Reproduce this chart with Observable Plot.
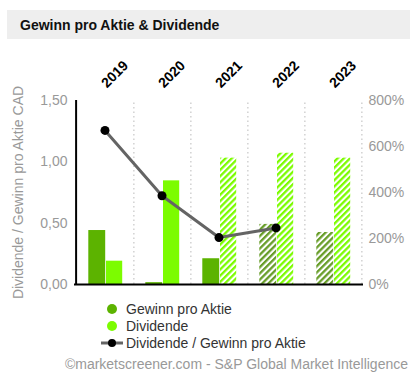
<!DOCTYPE html>
<html><head><meta charset="utf-8">
<script src="https://cdn.jsdelivr.net/npm/d3@7"></script>
<script src="https://cdn.jsdelivr.net/npm/@observablehq/plot@0.6"></script>
<style>
body{margin:0;width:419px;height:382px;position:relative;font-family:"Liberation Sans",Arial,sans-serif;background:#fff;overflow:hidden}
#title{position:absolute;left:7px;top:10px;width:403px;height:29px;background:#eee;font-weight:bold;font-size:14px;line-height:30px;padding-left:13px;box-sizing:border-box;color:#111}
#chart{position:absolute;left:0;top:40px}
#legend{position:absolute;left:100px;top:301px;font-size:14px;color:#333}
.item{height:16.7px;display:flex;align-items:center}
.item svg{width:24px;height:14px;margin-right:2px}
#footer{position:absolute;right:11px;top:356px;font-size:14px;color:#999;white-space:nowrap}
</style></head>
<body>
<div id="title">Gewinn pro Aktie &amp; Dividende</div>
<div id="chart"></div>
<div id="legend"></div>
<div id="footer">©marketscreener.com - S&amp;P Global Market Intelligence</div>
<script>
const years = ["2019","2020","2021","2022","2023"];
const eps = [0.44, 0.015, 0.21, 0.49, 0.424];
const dividend = [0.19, 0.845, 1.03, 1.07, 1.03];
const payoutRatio = [670, 386, 204, 246, null];
const epsEstimateFrom = 3;      // index of first estimated EPS
const divEstimateFrom = 2;      // index of first estimated dividend
const leftTicks = [0, 0.5, 1, 1.5];
const rightTicks = [0, 200, 400, 600, 800];
const yMax = 1.5, pctMax = 800;
const axisTitle = "Dividende / Gewinn pro Aktie CAD";
const legendLabels = ["Gewinn pro Aktie", "Dividende", "Dividende / Gewinn pro Aktie"];

const cEps = "#5cb300", cDiv = "#7cfc00", cEpsHatch = "#679d28", cLine = "#646464";

const epsData = years.map((y,i)=>({year:y, value:eps[i], est:i>=epsEstimateFrom}));
const divData = years.map((y,i)=>({year:y, value:dividend[i], est:i>=divEstimateFrom}));
const ratioData = years.map((y,i)=>({year:y, pct:payoutRatio[i]})).filter(d=>d.pct!=null);

const W = 419, H = 260, mL = 74, mR = 56, mT = 60, mB = 16;
const bw = (W - mL - mR) / years.length;
const toLeft = p => p / pctMax * yMax;

const svg = Plot.plot({
  width: W, height: H,
  marginLeft: mL, marginRight: mR, marginTop: mT, marginBottom: mB,
  style: {fontFamily: "Liberation Sans, Arial, sans-serif", fontSize: "14px", overflow: "visible"},
  x: {type: "band", domain: years, padding: 0, axis: null},
  y: {domain: [0, yMax], axis: null},
  marks: [
    Plot.ruleX(years, {dx: bw/2, y1: 0, y2: yMax, stroke: "#bbb", strokeDasharray: "1.5,3", strokeWidth: 1}),
    Plot.barY(epsData.filter(d=>!d.est), {x:"year", y:"value", fill:cEps, insetLeft:12.3, insetRight:27.8}),
    Plot.barY(epsData.filter(d=>d.est), {x:"year", y:"value", fill:"url(#hatchEps)", insetLeft:12.3, insetRight:27.8}),
    Plot.barY(divData.filter(d=>!d.est), {x:"year", y:"value", fill:cDiv, insetLeft:30, insetRight:10.8}),
    Plot.barY(divData.filter(d=>d.est), {x:"year", y:"value", fill:"url(#hatchDiv)", insetLeft:30, insetRight:10.8}),
    Plot.ruleY([0], {stroke:"#000", strokeWidth:2}),
    Plot.ruleX([years[0]], {dx: -bw/2, y1: 0, y2: yMax, stroke:"#000", strokeWidth:2}),
    Plot.line(ratioData, {x:"year", y:d=>toLeft(d.pct), stroke:cLine, strokeWidth:3}),
    Plot.dot(ratioData, {x:"year", y:d=>toLeft(d.pct), r:4.5, fill:"#000"}),
    Plot.axisY({anchor:"left", ticks: leftTicks, tickFormat: d=>d.toFixed(2).replace(".", ","), tickSize:0, tickPadding:7, fill:"#999", fontSize:14, label:null}),
    Plot.axisY({anchor:"right", ticks: rightTicks.map(toLeft), tickFormat: d=>Math.round(d/yMax*pctMax)+"%", tickSize:0, tickPadding:5, fill:"#999", fontSize:14, label:null}),
    Plot.text(years, {x:d=>d, frameAnchor:"top", dy:-12, dx:2, rotate:-45, textAnchor:"start", lineAnchor:"bottom", fontWeight:"bold", fontSize:14, fill:"#000"}),
    Plot.text([axisTitle], {frameAnchor:"left", dx:-56, rotate:-90, textAnchor:"middle", fill:"#999", fontSize:14})
  ]
});

const ns = "http://www.w3.org/2000/svg";
const defs = document.createElementNS(ns, "defs");
defs.innerHTML = `
<pattern id="hatchEps" width="4.4" height="4.4" patternUnits="userSpaceOnUse" patternTransform="rotate(45)">
  <rect width="4.4" height="4.4" fill="#fff"/><rect width="2.3" height="4.4" fill="${cEpsHatch}"/></pattern>
<pattern id="hatchDiv" width="4.4" height="4.4" patternUnits="userSpaceOnUse" patternTransform="rotate(45)">
  <rect width="4.4" height="4.4" fill="#fff"/><rect width="2.3" height="4.4" fill="${cDiv}"/></pattern>`;
svg.insertBefore(defs, svg.firstChild);
document.getElementById("chart").appendChild(svg);

const legend = document.getElementById("legend");
const sw = [
  `<circle cx="12" cy="7" r="5" fill="${cEps}"/>`,
  `<circle cx="12" cy="7" r="5" fill="${cDiv}"/>`,
  `<line x1="1" x2="23" y1="7" y2="7" stroke="${cLine}" stroke-width="3"/><circle cx="12" cy="7" r="4" fill="#000"/>`
];
legendLabels.forEach((t,i)=>{
  const d = document.createElement("div");
  d.className = "item";
  d.innerHTML = `<svg viewBox="0 0 24 14">${sw[i]}</svg><span>${t}</span>`;
  legend.appendChild(d);
});
</script>
</body></html>
